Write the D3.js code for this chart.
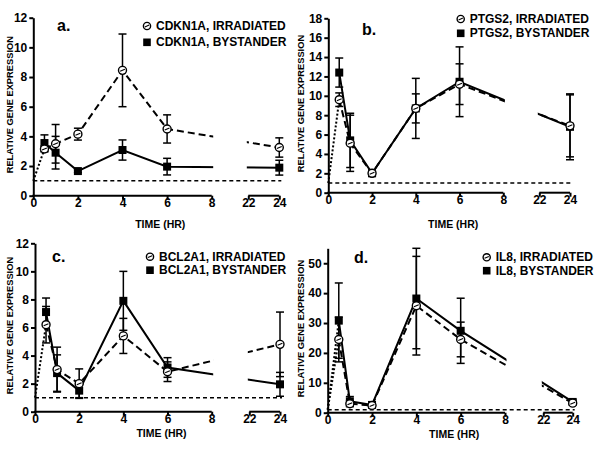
<!DOCTYPE html>
<html>
<head>
<meta charset="utf-8">
<script src="https://cdn.jsdelivr.net/npm/d3@7"></script>
<style>
body { margin: 0; background: #fff; }
svg { display: block; font-family: "Liberation Sans", Arial, sans-serif; }
.tick text { font-size: 12px; font-weight: bold; fill: #000; }
</style>
</head>
<body>
<script>
// time points (hr)
var times = [0.5, 1, 2, 4, 6, 24];
var xTicksLeft = [0, 2, 4, 6, 8];
var xTicksRight = [22, 24];

var genes = ["CDKN1A", "PTGS2", "BCL2A1", "IL8"];
var letters = ["a.", "b.", "c.", "d."];

// y ticks per panel
var yTicksA = [0, 2, 4, 6, 8, 10, 12];
var yTicksB = [0, 2, 4, 6, 8, 10, 12, 14, 16, 18];
var yTicksC = [0, 2, 4, 6, 8, 10, 12];
var yTicksD = [0, 10, 20, 30, 40, 50];
var yMax = [12, 18, 12, 55];

// CDKN1A
var cdkn1aIrr    = [3.15, 3.5, 4.15, 8.45, 4.5, 3.25];
var cdkn1aIrrErr = [0.2, 1.3, 0.4, 2.45, 0.95, 0.65];
var cdkn1aBys    = [3.55, 2.9, 1.66, 3.08, 1.96, 1.89];
var cdkn1aBysErr = [0.55, 1.1, 0.1, 0.68, 0.56, 0.5];

// PTGS2
var ptgs2Irr    = [9.6, 5.1, 2.0, 8.7, 11.2, 6.9];
var ptgs2IrrErr = [0.7, 2.9, 0.2, 1.5, 2.1, 3.2];
var ptgs2Bys    = [12.4, 5.4, 2.0, 8.7, 11.45, 6.8];
var ptgs2BysErr = [1.5, 2.8, 0.3, 3.1, 3.6, 3.4];

// BCL2A1
var bcl2a1Irr    = [6.2, 3.0, 2.0, 5.4, 2.85, 4.8];
var bcl2a1IrrErr = [1.3, 1.6, 1.05, 1.25, 0.7, 2.3];
var bcl2a1Bys    = [7.1, 2.75, 1.5, 7.9, 3.15, 1.95];
var bcl2a1BysErr = [1.0, 1.3, 0.5, 2.1, 0.7, 0.85];

// IL8
var il8Irr    = [24.5, 3.0, 2.4, 35.8, 24.5, 3.2];
var il8IrrErr = [7.5, 1.0, 0.5, 16.5, 5.8, 0.5];
var il8Bys    = [30.8, 3.8, 2.6, 38.2, 27.4, 3.6];
var il8BysErr = [12.6, 1.6, 0.6, 16.8, 10.9, 0.6];

var baseline = 1;

// panel layout (pixels)
var boxes = [
  {x0: 33.3, x8: 211.7, x22: 248.3, x24: 279.3, y0: 195.7, yTop: 17.7,
   legX: 147, legY: 26, legDy: 16.3, letX: 57, letY: 31, ylabX: 10, timeY: 227.5, dotBoth: false},
  {x0: 328.3, x8: 503.3, x22: 539.3, x24: 570, y0: 192.7, yTop: 18.3,
   legX: 460.7, legY: 19, legDy: 14.3, letX: 362, letY: 35, ylabX: 301, timeY: 227.5, dotBoth: false},
  {x0: 35, x8: 211.7, x22: 249.3, x24: 280, y0: 411.7, yTop: 243.3,
   legX: 150, legY: 256.7, legDy: 13.5, letX: 52, letY: 261.7, ylabX: 10, timeY: 436.5, dotBoth: false},
  {x0: 327.7, x8: 505, x22: 543.3, x24: 572.7, y0: 412.7, yTop: 248.3,
   legX: 486.7, legY: 257.3, legDy: 13.4, letX: 354, letY: 262.7, ylabX: 301, timeY: 437.5, dotBoth: true}
];

var irrData = [[cdkn1aIrr, cdkn1aIrrErr], [ptgs2Irr, ptgs2IrrErr], [bcl2a1Irr, bcl2a1IrrErr], [il8Irr, il8IrrErr]];
var bysData = [[cdkn1aBys, cdkn1aBysErr], [ptgs2Bys, ptgs2BysErr], [bcl2a1Bys, bcl2a1BysErr], [il8Bys, il8BysErr]];
var yTicksAll = [yTicksA, yTicksB, yTicksC, yTicksD];

var svg = d3.select("body").append("svg")
    .attr("width", 600)
    .attr("height", 450);

function circleMark(g, cx, cy, r) {
    g.append("circle")
        .attr("cx", cx).attr("cy", cy).attr("r", r)
        .attr("fill", "#fff").attr("stroke", "#000").attr("stroke-width", 1.4);
    g.append("line")
        .attr("x1", cx - r * 0.6).attr("x2", cx + r * 0.6)
        .attr("y1", cy + r * 0.25).attr("y2", cy - r * 0.25)
        .attr("stroke", "#000").attr("stroke-width", 1.1);
}

function drawPanel(i) {
    var b = boxes[i];
    var g = svg.append("g");

    var x = d3.scaleLinear()
        .domain([0, 8, 22, 24])
        .range([b.x0, b.x8, b.x22, b.x24]);
    var y = d3.scaleLinear()
        .domain([0, yMax[i]])
        .range([b.y0, b.yTop]);

    // clip out the axis break
    var clipId = "gap" + i;
    var clip = svg.append("clipPath").attr("id", clipId);
    clip.append("rect").attr("x", 0).attr("y", b.yTop - 20)
        .attr("width", x(8) + 1.5).attr("height", b.y0 - b.yTop + 40);
    clip.append("rect").attr("x", x(22) - 1.5).attr("y", b.yTop - 20)
        .attr("width", 80).attr("height", b.y0 - b.yTop + 40);

    // y axis
    var yAxis = g.append("g")
        .attr("transform", "translate(" + b.x0 + ",0)")
        .call(d3.axisLeft(y).tickValues(yTicksAll[i]).tickSize(4).tickSizeOuter(0).tickPadding(2));
    yAxis.select(".domain").attr("stroke-width", 2);
    yAxis.selectAll(".tick line").attr("stroke-width", 2);

    // x axis (broken)
    var xa1 = g.append("g")
        .attr("transform", "translate(0," + b.y0 + ")")
        .call(d3.axisBottom(x).tickValues(xTicksLeft).tickSize(4));
    var xa2 = g.append("g")
        .attr("transform", "translate(0," + b.y0 + ")")
        .call(d3.axisBottom(x).tickValues(xTicksRight).tickSize(4));
    [xa1, xa2].forEach(function (a) {
        a.select(".domain").remove();
        a.selectAll(".tick line").attr("stroke-width", 2);
        a.selectAll(".tick text").attr("y", 3);
    });
    g.append("line").attr("x1", x(0) - 1).attr("x2", x(8))
        .attr("y1", b.y0).attr("y2", b.y0)
        .attr("stroke", "#000").attr("stroke-width", 2);
    g.append("line").attr("x1", x(22)).attr("x2", x(24))
        .attr("y1", b.y0).attr("y2", b.y0)
        .attr("stroke", "#000").attr("stroke-width", 2);

    // axis titles
    g.append("text")
        .attr("transform", "translate(" + b.ylabX + "," + ((b.y0 + b.yTop) / 2 - 2) + ") rotate(-90)")
        .attr("text-anchor", "middle")
        .attr("dominant-baseline", "central")
        .style("font-size", "9.3px").style("font-weight", "bold")
        .text("RELATIVE GENE EXPRESSION");
    g.append("text")
        .attr("x", (b.x0 + b.x24) / 2 + 4).attr("y", b.timeY)
        .attr("text-anchor", "middle")
        .style("font-size", "10.5px").style("font-weight", "bold")
        .text("TIME (HR)");

    // panel letter
    g.append("text")
        .attr("x", b.letX).attr("y", b.letY)
        .style("font-size", "16px").style("font-weight", "bold")
        .text(letters[i]);

    // baseline at 1
    g.append("line")
        .attr("x1", x(0)).attr("x2", x(24) + 2)
        .attr("y1", y(baseline)).attr("y2", y(baseline))
        .attr("stroke", "#000").attr("stroke-width", 1.5)
        .attr("stroke-dasharray", "4,3");

    var irr = irrData[i], bys = bysData[i];
    var irrPts = times.map(function (t, k) { return {t: t, v: irr[0][k], e: irr[1][k]}; });
    var bysPts = times.map(function (t, k) { return {t: t, v: bys[0][k], e: bys[1][k]}; });

    var line = d3.line().x(function (d) { return x(d.t); }).y(function (d) { return y(d.v); });

    // dotted rise from the origin
    var dotSets = b.dotBoth ? [irrPts, bysPts] : [irrPts];
    dotSets.forEach(function (pts) {
        g.append("path")
            .attr("d", line([{t: 0, v: baseline}, pts[0]]))
            .attr("fill", "none").attr("stroke", "#000").attr("stroke-width", 2)
            .attr("stroke-dasharray", "2,2");
    });

    var lines = g.append("g").attr("clip-path", "url(#" + clipId + ")");
    lines.append("path")
        .attr("d", line(irrPts))
        .attr("fill", "none").attr("stroke", "#000").attr("stroke-width", 2)
        .attr("stroke-dasharray", "7,4");
    lines.append("path")
        .attr("d", line(bysPts))
        .attr("fill", "none").attr("stroke", "#000").attr("stroke-width", 2);

    // error bars
    var capW = 4;
    [irrPts, bysPts].forEach(function (pts) {
        var eb = g.append("g").attr("stroke", "#000").attr("stroke-width", 1.5);
        pts.forEach(function (d) {
            var cx = x(d.t), lo = y(d.v - d.e), hi = y(d.v + d.e);
            eb.append("line").attr("x1", cx).attr("x2", cx).attr("y1", lo).attr("y2", hi);
            eb.append("line").attr("x1", cx - capW).attr("x2", cx + capW).attr("y1", lo).attr("y2", lo);
            eb.append("line").attr("x1", cx - capW).attr("x2", cx + capW).attr("y1", hi).attr("y2", hi);
        });
    });

    // markers
    bysPts.forEach(function (d) {
        g.append("rect")
            .attr("x", x(d.t) - 4).attr("y", y(d.v) - 4)
            .attr("width", 8).attr("height", 8)
            .attr("fill", "#000");
    });
    irrPts.forEach(function (d) {
        circleMark(g, x(d.t), y(d.v), 4);
    });

    // legend
    circleMark(g, b.legX, b.legY, 3.6);
    g.append("rect")
        .attr("x", b.legX - 3.8).attr("y", b.legY + b.legDy - 3.8)
        .attr("width", 7.6).attr("height", 7.6).attr("fill", "#000");
    g.append("text")
        .attr("x", b.legX + 9).attr("y", b.legY)
        .attr("dominant-baseline", "central")
        .style("font-size", "12px").style("font-weight", "bold")
        .text(genes[i] + ", IRRADIATED");
    g.append("text")
        .attr("x", b.legX + 9).attr("y", b.legY + b.legDy)
        .attr("dominant-baseline", "central")
        .style("font-size", "12px").style("font-weight", "bold")
        .text(genes[i] + ", BYSTANDER");
}

for (var i = 0; i < 4; i++) drawPanel(i);
</script>
</body>
</html>
